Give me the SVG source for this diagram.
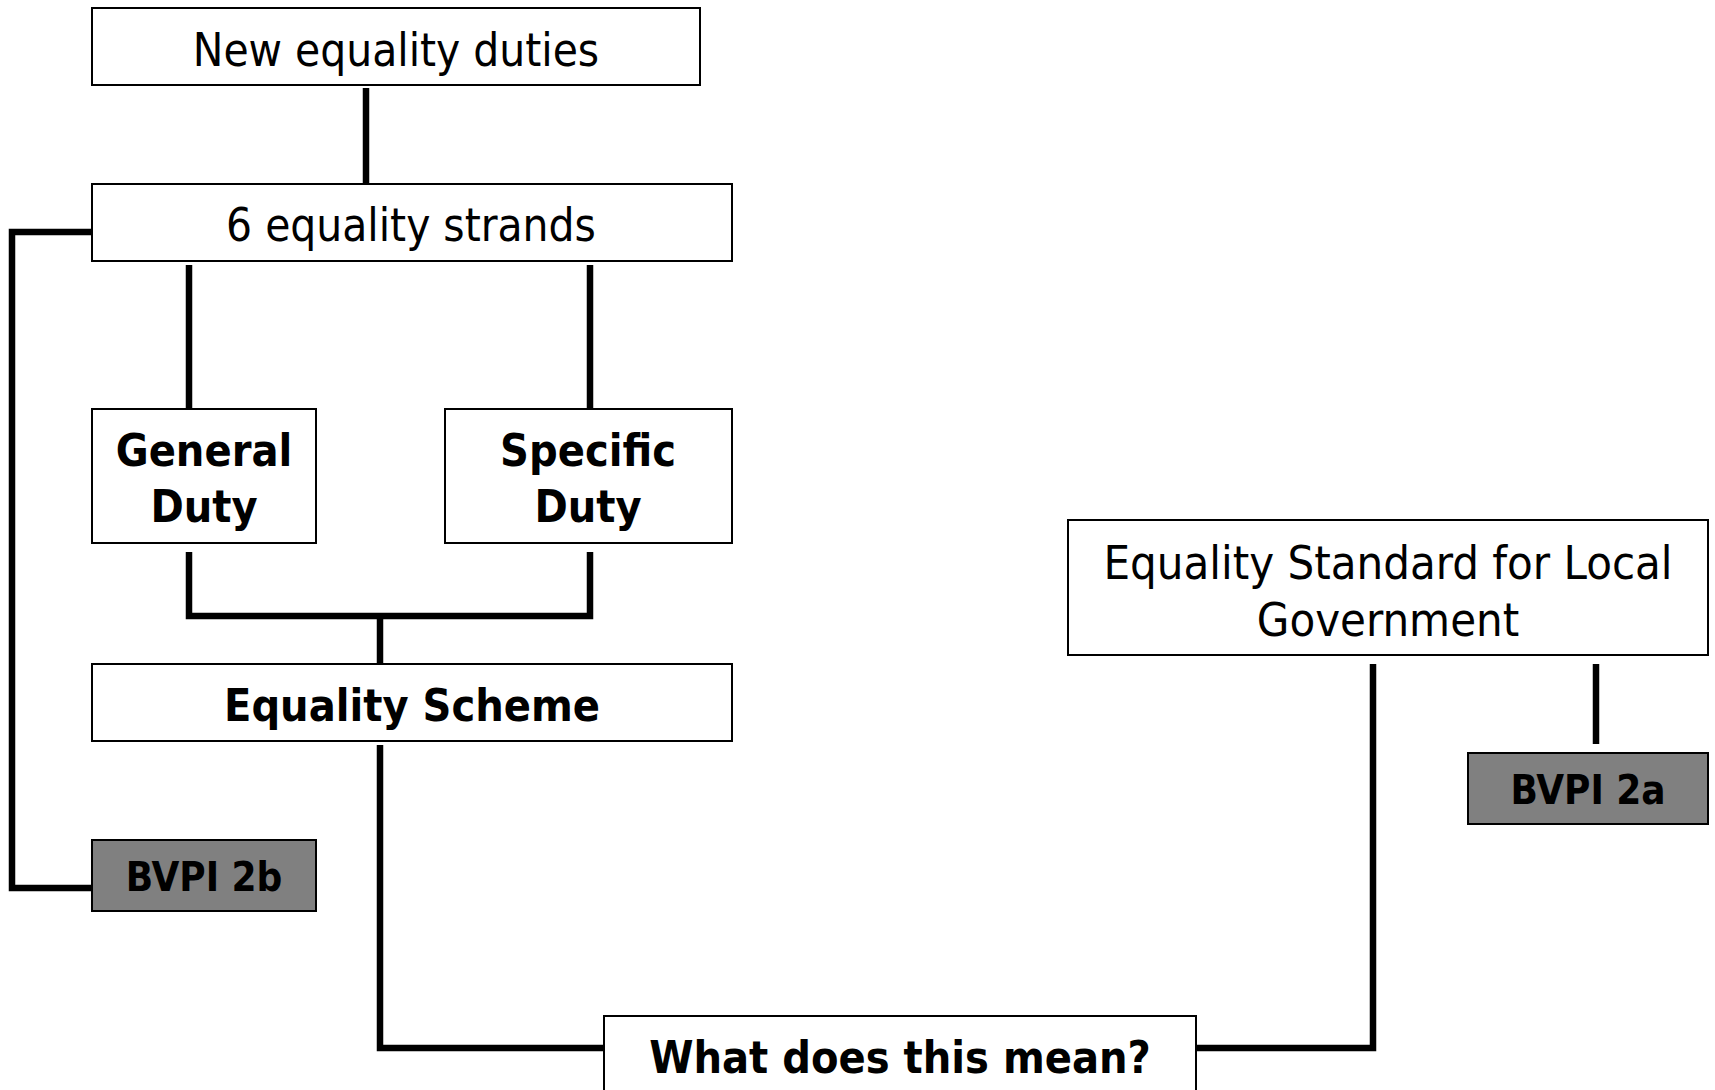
<svg xmlns="http://www.w3.org/2000/svg" width="1715" height="1090" viewBox="0 0 1715 1090">
<style>
.box{fill:#fff;stroke:#000;stroke-width:2}
.grey{fill:#808080;stroke:#000;stroke-width:2}
.t{font-family:"DejaVu Sans Condensed","DejaVu Sans","Liberation Sans",sans-serif;font-stretch:condensed;font-size:45.5px;fill:#000;text-anchor:middle}
.b{font-family:"DejaVu Sans Condensed","DejaVu Sans","Liberation Sans",sans-serif;font-stretch:condensed;font-size:44.6px;font-weight:bold;fill:#000;text-anchor:middle}
.s{font-family:"DejaVu Sans Condensed","DejaVu Sans","Liberation Sans",sans-serif;font-stretch:condensed;font-size:40px;font-weight:bold;fill:#000;text-anchor:middle}
.c{fill:none;stroke:#000;stroke-width:6.5;stroke-linejoin:miter}
</style>
<rect width="1715" height="1090" fill="#fff"/>
<g id="connectors">
<path class="c" d="M366 88V184"/>
<path class="c" d="M92 232H12V888H92"/>
<path class="c" d="M189 265V408"/>
<path class="c" d="M590 265V408"/>
<path class="c" d="M189 552V616H590V552"/>
<path class="c" d="M380 616V663"/>
<path class="c" d="M380 745V1048H604"/>
<path class="c" d="M1196 1048H1373V664"/>
<path class="c" d="M1596 664V744"/>
</g>
<g id="new-duties">
<rect class="box" x="92" y="8" width="608" height="77"/>
<text class="t" x="396" y="66">New equality duties</text>
</g>
<g id="strands">
<rect class="box" x="92" y="184" width="640" height="77"/>
<text class="t" x="411" y="241">6 equality strands</text>
</g>
<g id="general-duty">
<rect class="box" x="92" y="409" width="224" height="134"/>
<text class="b" x="204" y="466">General</text>
<text class="b" x="204" y="522">Duty</text>
</g>
<g id="specific-duty">
<rect class="box" x="445" y="409" width="287" height="134"/>
<text class="b" x="588" y="466">Specific</text>
<text class="b" x="588" y="522">Duty</text>
</g>
<g id="scheme">
<rect class="box" x="92" y="664" width="640" height="77"/>
<text class="b" x="412" y="721">Equality Scheme</text>
</g>
<g id="bvpi-2b">
<rect class="grey" x="92" y="840" width="224" height="71"/>
<text class="s" x="204" y="891">BVPI 2b</text>
</g>
<g id="what">
<rect class="box" x="604" y="1016" width="592" height="90"/>
<text class="b" x="900" y="1073">What does this mean?</text>
</g>
<g id="standard">
<rect class="box" x="1068" y="520" width="640" height="135"/>
<text class="t" x="1388" y="579" style="font-size:46.8px">Equality Standard for Local</text>
<text class="t" x="1388" y="636" style="font-size:46.8px">Government</text>
</g>
<g id="bvpi-2a">
<rect class="grey" x="1468" y="753" width="240" height="71"/>
<text class="s" x="1588" y="804">BVPI 2a</text>
</g>
</svg>
